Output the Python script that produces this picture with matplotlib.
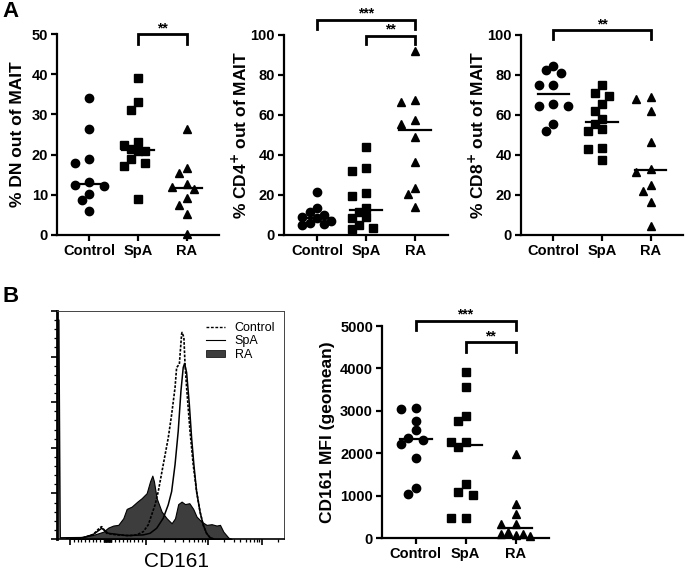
import numpy as np
import matplotlib
matplotlib.use("Agg")
import matplotlib.pyplot as plt
from matplotlib.lines import Line2D
from matplotlib.patches import Patch

plt.rcParams['font.family'] = ['Liberation Sans', 'DejaVu Sans']

groups = ["Control", "SpA", "RA"]

# panel A - % of MAIT cells
dn_control = [34.2, 26.4, 18.0, 18.9, 13.1, 12.2, 12.5, 10.3, 8.6, 6.0]
dn_spa = [39.1, 33.0, 31.2, 23.1, 22.4, 21.4, 21.0, 20.9, 18.9, 18.0, 17.2, 9.0]
dn_ra = [26.4, 16.6, 15.3, 12.0, 12.8, 11.4, 9.1, 7.5, 5.3, 0.3]

cd4_control = [21.3, 13.5, 11.5, 9.8, 9.0, 8.5, 7.0, 6.0, 5.5, 5.0]
cd4_spa = [43.8, 33.5, 32.2, 21.0, 19.5, 13.7, 11.3, 9.0, 8.7, 5.0, 3.5, 3.0]
cd4_ra = [92.0, 67.7, 66.3, 57.3, 55.5, 49.2, 36.7, 23.3, 20.3, 14.2]

cd8_control = [84.5, 82.5, 81.2, 75.2, 75.2, 65.5, 64.7, 64.3, 55.5, 52.0]
cd8_spa = [74.8, 71.2, 69.5, 65.5, 61.8, 58.2, 55.3, 53.2, 52.2, 43.3, 42.8, 37.5]
cd8_ra = [69.0, 68.0, 61.8, 46.5, 33.2, 31.7, 25.0, 22.2, 16.5, 4.5]

# panel B - CD161 MFI
mfi_control = [3059, 3035, 2759, 2540, 2366, 2304, 2225, 1895, 1187, 1030]
mfi_spa = [3923, 3569, 2885, 2759, 2256, 2256, 2146, 1281, 1093, 1006, 479, 479]
mfi_ra = [1981, 802, 558, 322, 322, 150, 100, 90, 60, 40]

# panel B - CD161 histograms (display channel, % of max)
ra_x = [57, 116, 160, 204, 226, 248, 270, 292, 307, 329, 354, 373, 395, 410, 420, 427,
        439, 461, 483, 505, 520, 534, 549, 564, 583, 600, 615, 637, 659, 681, 703, 718,
        733, 755, 769]
ra_y = [0.3, 1.0, 1.8, 3.2, 5.0, 5.9, 6.2, 9.1, 13.2, 14.2, 16.4, 17.9, 20.1, 25.3, 27.8, 25.3,
        17.9, 12.0, 9.1, 6.9, 9.1, 15.3, 16.4, 15.3, 15.7, 13.2, 9.8, 7.6, 6.2, 6.5, 5.9, 6.2,
        3.2, 0.6, 0.0]
ctrl_x = [40, 116, 160, 189, 197, 219, 263, 322, 351, 380, 402, 417, 432, 446, 468, 490,
          505, 520, 527, 539, 549, 551, 559, 564, 571, 586, 600, 615, 630, 644, 659, 674, 690]
ctrl_y = [0.0, 0.6, 2.0, 5.0, 5.4, 2.5, 1.8, 1.5, 1.8, 3.2, 6.2, 10.6, 15.0, 20.8, 32.6, 44.3,
          54.6, 66.4, 75.2, 76.7, 89.9, 90.6, 88.4, 76.7, 66.4, 47.3, 32.6, 20.8, 12.0, 6.2,
          2.5, 0.6, 0.0]
spa_x = [0, 8, 14, 116, 160, 197, 226, 307, 380, 410, 439, 468, 490, 505, 520, 534, 546,
         556, 562, 571, 583, 593, 603, 615, 630, 644, 659, 674, 690]
spa_y = [96, 96, 0.5, 0.6, 2.0, 4.7, 2.5, 1.5, 1.8, 2.5, 4.7, 9.1, 15.0, 20.8, 32.6, 47.3, 64.9,
         75.2, 77.0, 73.0, 59.0, 44.3, 32.6, 20.8, 12.0, 6.2, 2.5, 0.6, 0.0]

W, H = 685, 571
fig = plt.figure(figsize=(W / 100, H / 100), dpi=100)

markers = ['o', 's', '^']
DIAM = 9.0  # px


def rect(l, t, r, b):
    return [l / W, 1 - b / H, (r - l) / W, (b - t) / H]


def swarm(ax, vals, center):
    # beeswarm-ish: push overlapping points sideways, allow some overlap
    vals = np.asarray(vals, float)
    ys = ax.transData.transform(np.column_stack([np.zeros(len(vals)), vals]))[:, 1]
    pxx = ax.transData.transform((1, 0))[0] - ax.transData.transform((0, 0))[0]
    placed = []
    offs = np.zeros(len(vals))
    steps = [0, -1, 1, -2, 2]
    for i in np.argsort(-vals):
        best, best_d = 0, -1
        for k in steps:
            xo = k * DIAM * 0.8
            d = min([np.hypot(xo - px, ys[i] - py) for px, py in placed] + [99])
            if d >= DIAM * 0.9:
                best = xo
                break
            if d > best_d:
                best, best_d = xo, d
        placed.append((best, ys[i]))
        offs[i] = best / pxx
    return center + offs


def dot_panel(r, data, ylim, yticks, ylabel, label_x):
    ax = fig.add_axes(r)
    ax.set_xlim(-0.67, 2.67)
    ax.set_ylim(*ylim)
    for i, vals in enumerate(data):
        xs = swarm(ax, vals, i)
        ms = 5.6 if markers[i] == 's' else 6.0
        ax.plot(xs, vals, ls='none', marker=markers[i], ms=ms, color='black', clip_on=False, zorder=3)
        m = np.median(vals)
        ax.plot([i - 0.32, i + 0.32], [m, m], color='black', lw=1.6, zorder=4)
    ax.set_xticks(range(3))
    ax.set_xticklabels(groups)
    ax.set_yticks(yticks)
    ax.spines[['top', 'right']].set_visible(False)
    ax.spines[['left', 'bottom']].set_linewidth(1.6)
    ax.tick_params(width=1.6, length=4.5, labelsize=10.5, pad=2)
    for lab in ax.get_xticklabels() + ax.get_yticklabels():
        lab.set_fontweight('bold')
    ax.set_ylabel(ylabel, fontsize=12.5, fontweight='bold')
    ax.yaxis.set_label_coords(label_x, 0.5)
    return ax


def bracket(ax, x1, x2, top, tip, stars, ty):
    ax.plot([x1, x1, x2, x2], [tip, top, top, tip], color='black', lw=2.0,
            clip_on=False, solid_joinstyle='miter')
    ax.text((x1 + x2) / 2, ty, stars, ha='center', va='center', fontsize=10,
            fontweight='bold')


ax1 = dot_panel(rect(57, 34, 219, 235), [dn_control, dn_spa, dn_ra], (0, 50),
                range(0, 51, 10), "% DN out of MAIT", -0.20)
bracket(ax1, 1, 2, 50.0, 47.4, "**", 51.3)

ax2 = dot_panel(rect(284, 35, 448, 235), [cd4_control, cd4_spa, cd4_ra], (0, 100),
                range(0, 101, 20), "% CD4$^{\\mathbf{+}}$ out of MAIT", -0.21)
bracket(ax2, 0, 2, 107.5, 102.8, "***", 110.6)
bracket(ax2, 1, 2, 99.7, 95.3, "**", 102.6)

ax3 = dot_panel(rect(521, 35, 683, 235), [cd8_control, cd8_spa, cd8_ra], (0, 100),
                range(0, 101, 20), "% CD8$^{\\mathbf{+}}$ out of MAIT", -0.21)
bracket(ax3, 0, 2, 102.5, 98.0, "**", 105.5)

ax4 = dot_panel(rect(382, 326, 549, 538), [mfi_control, mfi_spa, mfi_ra], (0, 5000),
                range(0, 5001, 1000), "CD161 MFI (geomean)", -0.28)
bracket(ax4, 0, 2, 5125, 4906, "***", 5270)
bracket(ax4, 1, 2, 4615, 4380, "**", 4750)

# histogram overlay
axh = fig.add_axes(rect(57, 311, 284, 539))
axh.fill_between(ra_x, ra_y, color='#3d3d3d', edgecolor='black', lw=0.8, zorder=1)
axh.plot(spa_x, spa_y, color='black', lw=1.1, zorder=3)
axh.plot(ctrl_x, ctrl_y, color='black', lw=1.2, ls=(0, (1.6, 0.9)), zorder=2)
axh.set_xlim(0, 1000)
axh.set_ylim(0, 100)
for s in ['top', 'right']:
    axh.spines[s].set_linewidth(0.7)
    axh.spines[s].set_color('#444444')
axh.spines['left'].set_linewidth(2.0)
axh.spines['bottom'].set_linewidth(1.2)

# logicle-like ticks on the x axis
zero, d2, d3, d4 = 222.5, 390.7, 663.9, 903.0
majors = [57.3, d2, d3, d4]
minors = [zero + k / 100 * (d2 - zero) for k in range(10, 100, 10)]
minors += [zero - k / 100 * (zero - 57.3) for k in range(10, 100, 10)]
minors += [zero + s * k / 100 * (d2 - zero) for k in range(1, 10) for s in (-1, 1)]
for a, b in [(d2, d3), (d3, d4), (d4, d4 + 239)]:
    minors += [a + np.log10(k) * (b - a) for k in range(2, 10)]
minors = [m for m in minors if 0 < m < 1000]
axh.set_xticks(majors)
axh.set_xticks(minors, minor=True)
axh.set_yticks(range(0, 101, 20))
axh.set_yticks(range(0, 101, 4), minor=True)
axh.tick_params(which='major', length=4.5, width=1.2, labelbottom=False, labelleft=False)
axh.tick_params(which='minor', length=2.2, width=0.9)

handles = [Line2D([], [], color='black', lw=1.0, ls=(0, (2, 1.2))),
           Line2D([], [], color='black', lw=0.8),
           Patch(facecolor='#3d3d3d', edgecolor='black', lw=0.5)]
axh.legend(handles, groups, loc='upper right', bbox_to_anchor=(0.995, 0.985), frameon=False,
           fontsize=9, handlelength=1.5, handleheight=0.6, handletextpad=0.8,
           labelspacing=0.12, borderaxespad=0.2)

fig.text(176.7 / W, 1 - 561.7 / H, "CD161", fontsize=15, ha='center', va='center')

fig.text(2 / W, 1 - 1 / H, "A", fontsize=16, fontweight='bold', va='top')
fig.text(2 / W, 1 - 286 / H, "B", fontsize=16, fontweight='bold', va='top')

fig.savefig("out.png", dpi=100)
